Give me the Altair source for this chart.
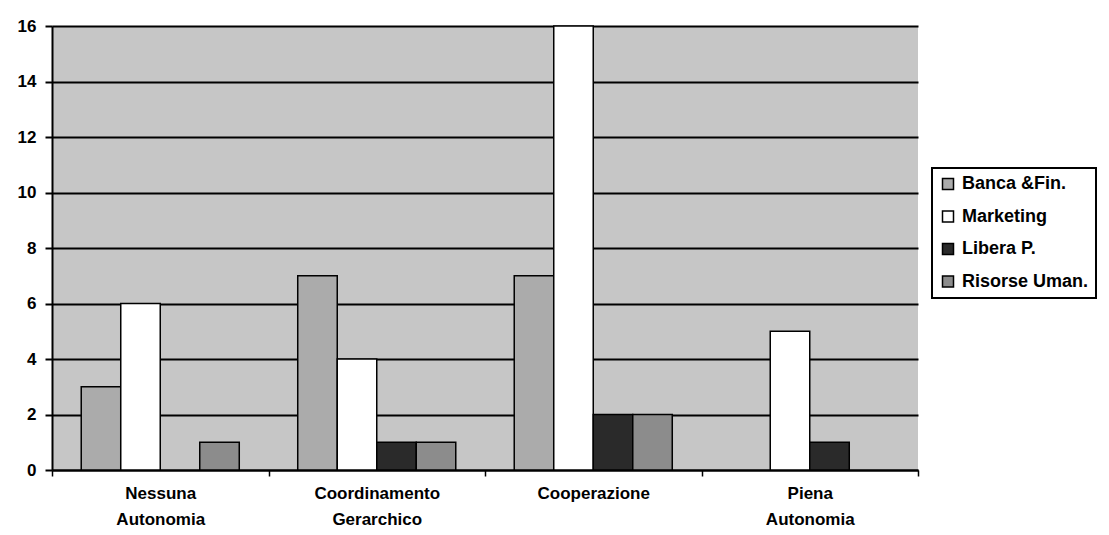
import altair as alt
import pandas as pd

categories = ["Nessuna Autonomia", "Coordinamento Gerarchico", "Cooperazione", "Piena Autonomia"]
series = ["Banca &Fin.", "Marketing", "Libera P.", "Risorse Uman."]
banca = [3, 7, 7, 0]
marketing = [6, 4, 16, 5]
libera = [0, 1, 2, 1]
risorse = [1, 1, 2, 0]
colors = ["#ababab", "#ffffff", "#2a2a2a", "#8c8c8c"]

rows = []
for i, c in enumerate(categories):
    for s, vals in zip(series, [banca, marketing, libera, risorse]):
        rows.append({"cat": c, "series": s, "value": vals[i]})
df = pd.DataFrame(rows)

FONT = "Liberation Sans"

bars = alt.Chart(df).transform_filter("datum.value > 0").mark_bar(
    stroke="black", strokeWidth=1.5
).encode(
    x=alt.X("cat:N", sort=categories, title=None,
            scale=alt.Scale(paddingInner=0, paddingOuter=0),
            axis=alt.Axis(labelAngle=0, labelExpr="split(datum.label, ' ')",
                          labelFont=FONT, labelFontWeight="bold", labelFontSize=17,
                          labelColor="black", labelPadding=9, labelLineHeight=26,
                          tickBand="extent", tickColor="black", tickSize=6, tickWidth=1.5,
                          domainColor="black", domainWidth=2, grid=False)),
    xOffset=alt.XOffset("series:N", sort=series,
                        scale=alt.Scale(domain=series, paddingInner=0, paddingOuter=0.74)),
    y=alt.Y("value:Q", title=None,
            scale=alt.Scale(domain=[0, 16], nice=False),
            axis=alt.Axis(values=list(range(0, 17, 2)), labelFont=FONT,
                          labelFontWeight="bold", labelFontSize=17, labelColor="black",
                          tickColor="black", tickSize=7, tickWidth=2, labelPadding=9,
                          domainColor="black", domainWidth=2,
                          grid=True, gridColor="black", gridWidth=2, gridOpacity=1)),
    fill=alt.Fill("series:N", sort=series,
                  scale=alt.Scale(domain=series, range=colors),
                  legend=alt.Legend(title=None, orient="none", legendX=880, legendY=142,
                                    symbolType="square", symbolSize=121,
                                    symbolStrokeColor="black", symbolStrokeWidth=1.5,
                                    labelFont=FONT, labelFontWeight="bold", labelFontSize=18,
                                    labelColor="black", rowPadding=14.5, labelOffset=5,
                                    padding=7, strokeColor="black", fillColor="white")),
)

chart = bars.properties(
    width=866, height=444,
    autosize=alt.AutoSizeParams(type="none"),
    padding={"left": 44, "top": 18, "right": 183, "bottom": 57},
).configure_view(fill="#c6c6c6", stroke=None).configure_legend(strokeWidth=2)

chart.save("out.html", embed_options={"renderer": "svg", "actions": False})
